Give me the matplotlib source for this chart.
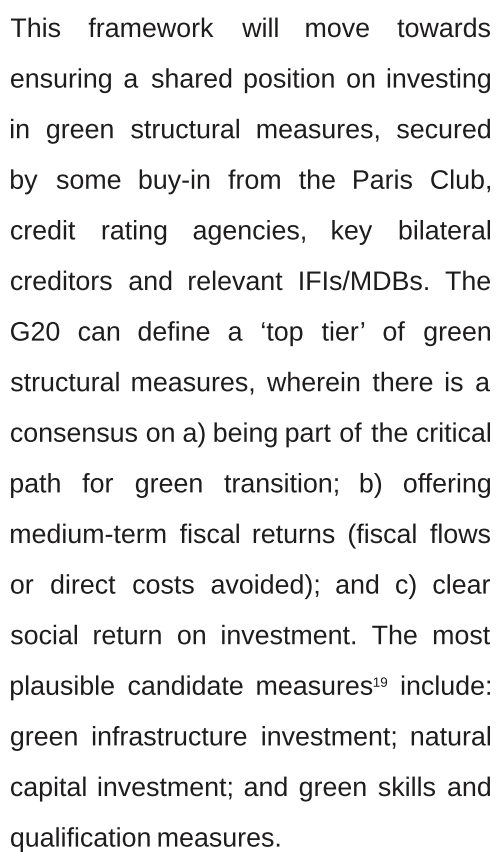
import matplotlib

matplotlib.use("Agg")
import matplotlib.pyplot as plt
from matplotlib.font_manager import FontProperties
from matplotlib.patches import PathPatch
from matplotlib.textpath import TextPath
from matplotlib.transforms import Affine2D

# paragraph, one entry per printed line; "^" marks a superscript footnote
LINES = [
    "This framework will move towards",
    "ensuring a shared position on investing",
    "in green structural measures, secured",
    "by some buy-in from the Paris Club,",
    "credit rating agencies, key bilateral",
    "creditors and relevant IFIs/MDBs. The",
    "G20 can define a \u2018top tier\u2019 of green",
    "structural measures, wherein there is a",
    "consensus on a) being part of the critical",
    "path for green transition; b) offering",
    "medium-term fiscal returns (fiscal flows",
    "or direct costs avoided); and c) clear",
    "social return on investment. The most",
    "plausible candidate measures^19 include:",
    "green infrastructure investment; natural",
    "capital investment; and green skills and",
    "qualification measures.",
]

W, H = 497, 852
DPI = 100
LEFT, RIGHT = 11, 490
FIRST_BASELINE = 37
LINE_PITCH = 50.6
FONT_PX = 26.8
SUP_PX = 13.5
SUP_RAISE = 8
COLOR = "#1e1c1c"
PROP = FontProperties(family="Liberation Sans")

fig = plt.figure(figsize=(W / DPI, H / DPI), dpi=DPI)
fig.patch.set_facecolor("white")
ax = fig.add_axes([0, 0, 1, 1])
ax.set_xlim(0, W)
ax.set_ylim(H, 0)
ax.axis("off")


def _width(txt, size):
    return TextPath((0, 0), txt, size=size, prop=PROP).get_extents().width


def _draw(txt, size, x, y):
    path = TextPath((0, 0), txt, size=size, prop=PROP)
    x -= path.get_extents().x0
    tr = Affine2D().scale(1, -1).translate(x, y) + ax.transData
    ax.add_patch(PathPatch(path, transform=tr, facecolor=COLOR,
                           edgecolor="none", lw=0))


def _word_parts(word):
    if "^" in word:
        main, sup = word.split("^", 1)
        return [(main, FONT_PX, 0), (sup, SUP_PX, SUP_RAISE)]
    return [(word, FONT_PX, 0)]


# natural gap between two words (space advance plus side bearings)
space = 0.33 * FONT_PX

for i, line in enumerate(LINES):
    y = FIRST_BASELINE + i * LINE_PITCH
    words = line.split(" ")
    parts = [_word_parts(w) for w in words]
    widths = [sum(_width(p[0], p[1]) + (1.5 if p[2] else 0) for p in ps)
              for ps in parts]
    last = i == len(LINES) - 1
    if last or len(words) == 1:
        gap = space
    else:
        gap = (RIGHT - LEFT - sum(widths)) / (len(words) - 1)
    x = LEFT
    for ps, w in zip(parts, widths):
        px = x
        for txt, size, raise_ in ps:
            if raise_:
                px += 1.5
            _draw(txt, size, px, y - raise_)
            px += _width(txt, size)
        x += w + gap

fig.savefig("out.png", dpi=DPI, facecolor="white")
plt.close(fig)
